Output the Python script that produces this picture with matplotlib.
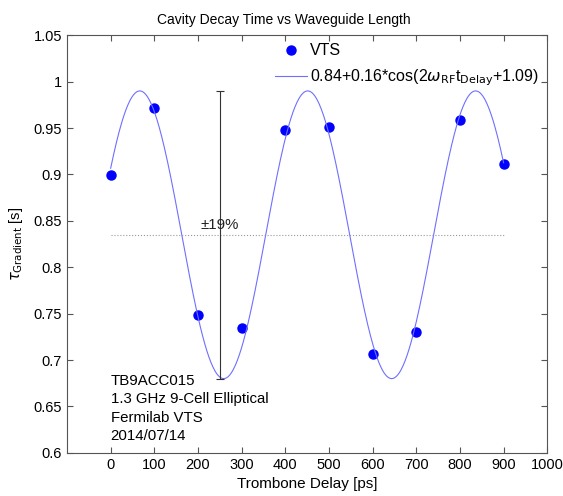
import numpy as np
import matplotlib.pyplot as plt
from matplotlib.ticker import FuncFormatter

plt.rcParams['font.family'] = ['Liberation Sans', 'DejaVu Sans']

# measured decay times
delay_ps = [0, 100, 200, 300, 400, 500, 600, 700, 800, 900]
tau_s = [0.899, 0.972, 0.748, 0.734, 0.948, 0.951, 0.707, 0.730, 0.959, 0.911]

# fit parameters
fit_offset = 0.835
fit_amp = 0.155
fit_phase = 1.09
f_rf_ghz = 1.3

notes = ['TB9ACC015', '1.3 GHz 9-Cell Elliptical', 'Fermilab VTS', '2014/07/14']

fig = plt.figure(figsize=(5.63, 4.96), dpi=100)
ax = fig.add_axes([0.119, 0.087, 0.853, 0.842])

t = np.linspace(0, 900, 600)
omega = 2 * np.pi * f_rf_ghz * 1e-3  # rad/ps
fit = fit_offset + fit_amp * np.cos(2 * omega * t - fit_phase)

ax.plot(delay_ps, tau_s, 'o', color='#0000ff', markersize=6.5, label='VTS')
ax.plot(t, fit, '-', color='#6f6fff', linewidth=0.8,
        label=r'0.84+0.16*cos(2$\omega_{\rm RF}$t$_{\rm Delay}$+1.09)')

# mean line and spread bar
ax.plot([0, 900], [fit_offset, fit_offset], ':', color='#999999', linewidth=0.8)
ax.errorbar([250], [fit_offset], yerr=[fit_amp], color='#333333', linewidth=0.8,
            capsize=3, capthick=0.8)
ax.text(250, 0.838, u'\u00b119%', ha='center', va='bottom', fontsize=10.8, color='#222222')

for i, s in enumerate(notes):
    ax.text(0, 0.677 - i * 0.0195, s, ha='left', va='center', fontsize=10.8)

ax.set_xlim(-100, 1000)
ax.set_ylim(0.6, 1.05)
ax.set_xticks(np.arange(0, 1001, 100))
ax.set_yticks(np.arange(0.6, 1.0501, 0.05))
ax.yaxis.set_major_formatter(FuncFormatter(lambda v, p: '%g' % round(v, 2)))
ax.tick_params(direction='in', top=True, right=True, labelsize=10.5, length=4, color='#555555')
for s in ax.spines.values():
    s.set_color('#555555')

ax.set_title('Cavity Decay Time vs Waveguide Length', fontsize=10, pad=8, x=0.452)
ax.set_xlabel('Trombone Delay [ps]', fontsize=11, labelpad=4)
ax.set_ylabel(r'$\tau_{\rm Gradient}$ [s]', fontsize=10.5, labelpad=6)

ax.legend(loc='upper right', bbox_to_anchor=(1.0, 1.0), frameon=False, fontsize=11.5,
          handlelength=2.0, handletextpad=0.2, borderaxespad=0.1, labelspacing=0.6)

fig.savefig('out.png', dpi=100)
